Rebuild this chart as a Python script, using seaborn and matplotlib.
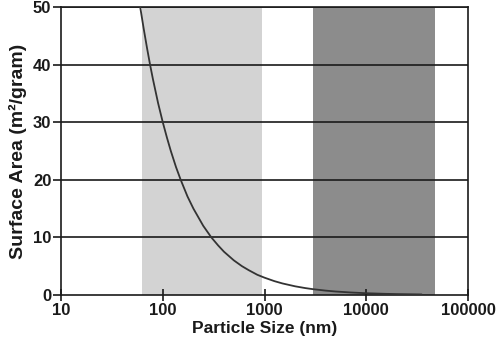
import matplotlib
matplotlib.use("Agg")
import matplotlib.pyplot as plt
import seaborn as sns
import pandas as pd

# Data
particle_size = [60, 65, 70, 75, 80, 90, 100, 110, 120, 135, 150, 175, 200, 250,
                 300, 350, 400, 500, 600, 700, 850, 1000, 1250, 1500, 2000, 2500,
                 3000, 4000, 5000, 7000, 10000, 15000, 20000, 35000]
surface_area = [50, 46.2, 42.9, 40, 37.5, 33.3, 30, 27.3, 25, 22.2, 20, 17.1, 15, 12,
                10, 8.6, 7.5, 6, 5, 4.3, 3.5, 3, 2.4, 2, 1.5, 1.2,
                1, 0.75, 0.6, 0.43, 0.3, 0.2, 0.15, 0.09]
light_band = (62, 950)
dark_band = (2980, 47000)
x_ticks = [10, 100, 1000, 10000, 100000]
y_ticks = [0, 10, 20, 30, 40, 50]

sns.set_style("white")
plt.rcParams['font.family'] = ['Liberation Sans', 'DejaVu Sans']

fig = plt.figure(figsize=(5.0, 3.47), dpi=100)
ax = fig.add_axes([0.122, 0.150, 0.814, 0.830])

ax.axvspan(*light_band, color="#d3d3d3", lw=0, zorder=0)
ax.axvspan(*dark_band, color="#8c8c8c", lw=0, zorder=0)

df = pd.DataFrame({"size": particle_size, "area": surface_area})
sns.lineplot(data=df, x="size", y="area", ax=ax, color="#333333", lw=1.3, zorder=3)

ax.set_xscale("log")
ax.set_xlim(10, 100000)
ax.set_ylim(0, 50)
ax.set_xticks(x_ticks)
ax.set_xticklabels([str(t) for t in x_ticks])
ax.xaxis.set_minor_locator(matplotlib.ticker.NullLocator())
ax.set_yticks(y_ticks)
ax.set_yticklabels([str(t) for t in y_ticks])

for y in y_ticks[1:]:
    ax.axhline(y, color="#1a1a1a", lw=1.2, zorder=2)

for s in ax.spines.values():
    s.set_color("#1a1a1a")
    s.set_linewidth(1.2)
    s.set_visible(True)

ax.tick_params(axis="x", direction="inout", length=8, width=1.2, labelsize=12, pad=2, colors="#1a1a1a", bottom=True)
ax.tick_params(axis="y", direction="out", length=6, width=1.2, labelsize=12, pad=1, colors="#1a1a1a", left=True)
for lbl in ax.get_xticklabels() + ax.get_yticklabels():
    lbl.set_fontweight("bold")
    lbl.set_color("#1a1a1a")

ax.set_xlabel("Particle Size (nm)", fontsize=12.5, fontweight="bold", color="#1a1a1a", labelpad=2)
ax.set_ylabel("Surface Area (m²/gram)", fontsize=14, fontweight="bold", color="#1a1a1a", labelpad=4)

fig.savefig("out.png", dpi=100)
